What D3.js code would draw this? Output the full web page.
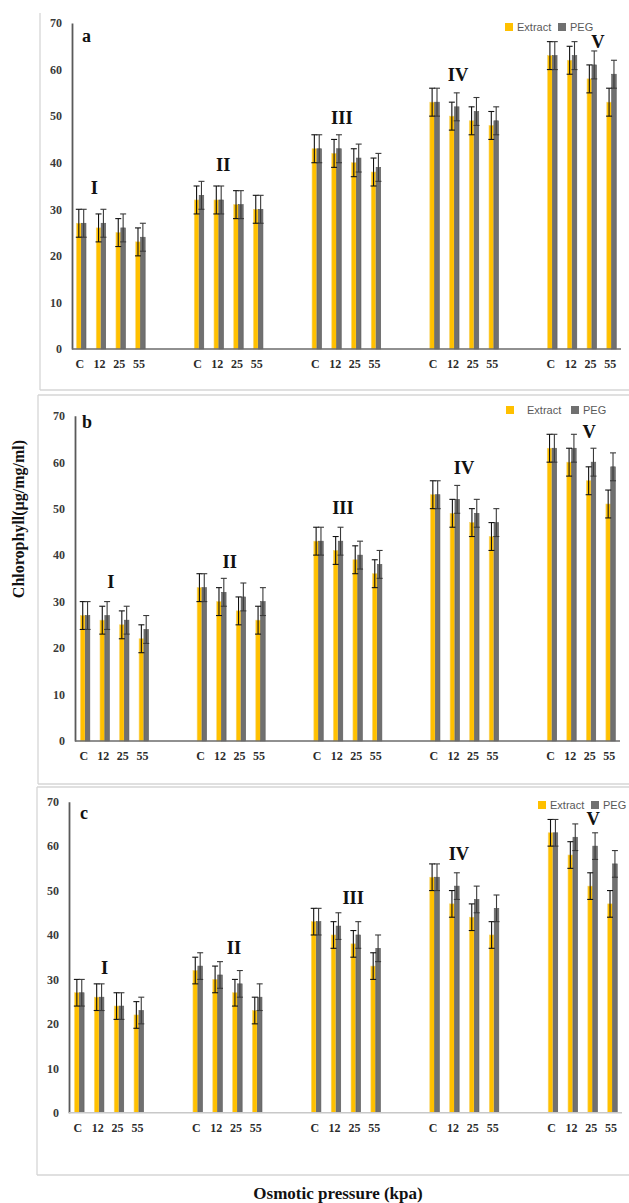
<!DOCTYPE html>
<html><head><meta charset="utf-8">
<script src="https://cdn.jsdelivr.net/npm/d3@7"></script>
<style>
html,body{margin:0;padding:0;background:#fff;}
svg{display:block;}
</style></head>
<body>
<svg id="chart" width="629" height="1203"></svg>
<script>
// ---------- DATA ----------
const groups = ["I", "II", "III", "IV", "V"];
const categories = ["C", "12", "25", "55"];
const series = ["Extract", "PEG"];
const yTicks = [0, 10, 20, 30, 40, 50, 60, 70];

const extractA = [27,26,25,23, 32,32,31,30, 43,42,40,38, 53,50,49,48, 63,62,58,53];
const pegA     = [27,27,26,24, 33,32,31,30, 43,43,41,39, 53,52,51,49, 63,63,61,59];
const extractB = [27,26,25,22, 33,30,28,26, 43,41,39,36, 53,49,47,44, 63,60,56,51];
const pegB     = [27,27,26,24, 33,32,31,30, 43,43,40,38, 53,52,49,47, 63,63,60,59];
const extractC = [27,26,24,22, 32,30,27,23, 43,40,38,33, 53,47,44,40, 63,58,51,47];
const pegC     = [27,26,24,23, 33,31,29,26, 43,42,40,37, 53,51,48,46, 63,62,60,56];
const errorAll = 3;

// group label anchors: [fraction across group band, y value]
const labelPosA = [[0.31,33.3],[0.45,38.2],[0.46,48.3],[0.44,57.5],[0.72,64.6]];
const labelPosB = [[0.47,32.9],[0.50,37.2],[0.455,48.8],[0.51,57.4],[0.62,65.2]];
const labelPosC = [[0.46,31.2],[0.60,35.7],[0.61,47.0],[0.45,56.9],[0.65,64.8]];

// ---------- LAYOUT ----------
const panels = [
  {letter:"a", ext:extractA, peg:pegA, lab:labelPosA,
   xr:[70,620], axisX:72, y0:349, y70:23, frame:{x:40,top:13,bottom:390,showTop:false},
   letterPos:[82,42], legend:{x:505,y:27,gap:53,tx:12}, xAxisColor:"#6b6b6b"},
  {letter:"b", ext:extractB, peg:pegB, lab:labelPosB,
   xr:[74,619], axisX:75, y0:741, y70:415.7, frame:{x:38,top:395,bottom:784,showTop:true},
   letterPos:[82,428], legend:{x:506,y:410,gap:65,tx:21}, xAxisColor:"#6b6b6b"},
  {letter:"c", ext:extractC, peg:pegC, lab:labelPosC,
   xr:[68,621], axisX:69, y0:1112.7, y70:801.7, frame:{x:37,top:787,bottom:1175,showTop:true},
   letterPos:[80,819], legend:{x:538,y:805,gap:53,tx:12}, xAxisColor:"#c8c8c8"}
];

const colors = {Extract:"#FFC000", PEG:"#707070"};
const strokes = {Extract:"#F7D46A", PEG:"#595959"};
const errColors = {Extract:"#111", PEG:"#3a3a3a"};
const serif = "'Liberation Serif','Times New Roman',serif";
const sans = "'Liberation Sans',Arial,sans-serif";

const svg = d3.select("#chart");

panels.forEach(p => {
  const g = svg.append("g");
  // frame
  const f = p.frame;
  g.append("line").attr("x1",f.x).attr("x2",f.x).attr("y1",f.top).attr("y2",f.bottom)
    .attr("stroke","#d6d6d6").attr("stroke-width",1.3);
  g.append("line").attr("x1",f.x).attr("x2",629).attr("y1",f.bottom).attr("y2",f.bottom)
    .attr("stroke","#d6d6d6").attr("stroke-width",1.3);
  if (f.showTop) g.append("line").attr("x1",f.x).attr("x2",629).attr("y1",f.top).attr("y2",f.top)
    .attr("stroke","#d6d6d6").attr("stroke-width",1.3);

  const y = d3.scaleLinear().domain([0,70]).range([p.y0, p.y70]);
  const xG = d3.scaleBand().domain(groups).range(p.xr).paddingInner(0.33).paddingOuter(0);
  const xC = d3.scaleBand().domain(categories).range([0, xG.bandwidth()]);
  const s = xC.step();
  const xS = d3.scaleBand().domain(series).range([-0.17*s, 0.31*s]).paddingInner(0.06);

  // data rows
  const rows = [];
  groups.forEach((gr, gi) => categories.forEach((c, ci) => {
    const i = gi*categories.length + ci;
    rows.push({g:gr, c:c, s:"Extract", v:p.ext[i], e:errorAll});
    rows.push({g:gr, c:c, s:"PEG", v:p.peg[i], e:errorAll});
  }));
  const cx = d => xG(d.g) + xC(d.c) + xC.bandwidth()/2;

  // bars
  g.selectAll("rect.bar").data(rows).join("rect").attr("class","bar")
    .attr("x", d => cx(d) + xS(d.s))
    .attr("width", xS.bandwidth())
    .attr("y", d => y(d.v))
    .attr("height", d => y(0) - y(d.v))
    .attr("fill", d => colors[d.s])
    .attr("stroke", d => strokes[d.s]).attr("stroke-width",0.6);

  // error bars
  const eb = g.selectAll("g.err").data(rows).join("g").attr("class","err")
    .attr("stroke", d => errColors[d.s]).attr("stroke-width",1.1);
  const ex = d => cx(d) + xS(d.s) + xS.bandwidth()/2;
  eb.append("line").attr("x1",ex).attr("x2",ex).attr("y1",d=>y(d.v+d.e)).attr("y2",d=>y(d.v-d.e));
  eb.append("line").attr("x1",d=>ex(d)-3).attr("x2",d=>ex(d)+3).attr("y1",d=>y(d.v+d.e)).attr("y2",d=>y(d.v+d.e));
  eb.append("line").attr("x1",d=>ex(d)-3).attr("x2",d=>ex(d)+3).attr("y1",d=>y(d.v-d.e)).attr("y2",d=>y(d.v-d.e));

  // y axis
  const yAx = g.append("g").attr("transform",`translate(${p.axisX},0)`)
    .call(d3.axisLeft(y).tickValues(yTicks).tickSize(0).tickPadding(10).tickFormat(d3.format("d")));
  yAx.select(".domain").attr("stroke","#5a5a5a").attr("stroke-width",1.8);
  yAx.selectAll("text").attr("font-family",serif).attr("font-weight","bold")
    .attr("font-size",12).attr("fill","#3a3a3a");

  // x axis (category labels)
  g.append("line").attr("x1",p.axisX).attr("x2",p.xr[1]+1).attr("y1",y(0)).attr("y2",y(0))
    .attr("stroke",p.xAxisColor).attr("stroke-width",1.6);
  g.selectAll("text.xl").data(rows.filter(d=>d.s==="Extract")).join("text").attr("class","xl")
    .attr("x", cx).attr("y", y(0)+19)
    .attr("text-anchor","middle").attr("font-family",serif).attr("font-weight","bold")
    .attr("font-size",12).attr("fill","#2a2a2a").text(d=>d.c);

  // group labels
  g.selectAll("text.gl").data(groups).join("text").attr("class","gl")
    .attr("x",(d,i)=> xG(d) + p.lab[i][0]*xG.bandwidth())
    .attr("y",(d,i)=> y(p.lab[i][1]))
    .attr("text-anchor","middle").attr("font-family",serif).attr("font-weight","bold")
    .attr("font-size",18.5).attr("fill","#111").text(d=>d);

  // panel letter
  g.append("text").attr("x",p.letterPos[0]).attr("y",p.letterPos[1])
    .attr("font-family",serif).attr("font-weight","bold").attr("font-size",18)
    .attr("fill","#111").text(p.letter);

  // legend
  const lg = g.append("g").attr("transform",`translate(${p.legend.x},${p.legend.y})`);
  series.forEach((sName, i) => {
    const it = lg.append("g").attr("transform",`translate(${i*p.legend.gap},0)`);
    it.append("rect").attr("x",0).attr("y",-4).attr("width",8).attr("height",8).attr("fill",colors[sName]);
    it.append("text").attr("x",i===0 ? p.legend.tx : 12).attr("y",4).attr("font-family",sans).attr("font-size",11)
      .attr("fill","#595959").text(sName);
  });
});

// axis titles
svg.append("text").attr("transform","translate(24,519) rotate(-90)")
  .attr("text-anchor","middle").attr("font-family",serif).attr("font-weight","bold")
  .attr("font-size",16).attr("fill","#111").text("Chlorophyll(µg/mg/ml)");
svg.append("text").attr("x",338).attr("y",1199)
  .attr("text-anchor","middle").attr("font-family",serif).attr("font-weight","bold")
  .attr("font-size",17).attr("fill","#111").text("Osmotic pressure (kpa)");
</script>
</body></html>
